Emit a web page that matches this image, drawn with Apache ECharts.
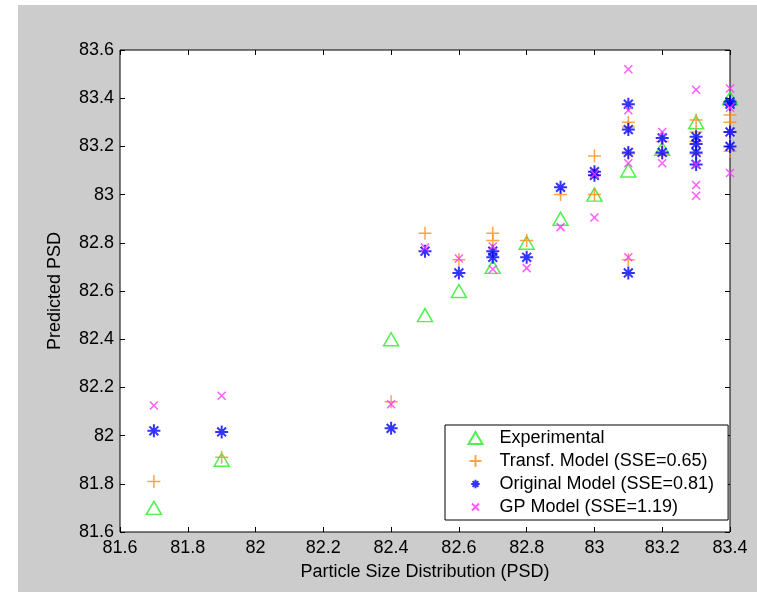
<!DOCTYPE html>
<html>
<head>
<meta charset="utf-8">
<script src="https://cdn.jsdelivr.net/npm/echarts@6/dist/echarts.min.js"></script>
<style>
  html, body { margin: 0; padding: 0; background: #fff; }
  #wrap { position: relative; width: 757px; height: 592px; }
  #bg { position: absolute; left: 18px; top: 5px; width: 739px; height: 587px; background: #cccccc; }
  #chart { position: absolute; left: 0; top: 0; width: 757px; height: 592px; }
</style>
</head>
<body>
<div id="wrap">
  <div id="bg"></div>
  <div id="chart"></div>
</div>
<script>
// axis ticks
const xTicks = [81.6, 81.8, 82, 82.2, 82.4, 82.6, 82.8, 83, 83.2, 83.4];
const yTicks = [81.6, 81.8, 82, 82.2, 82.4, 82.6, 82.8, 83, 83.2, 83.4, 83.6];

// Experimental
const expX = [81.7, 81.9, 82.4, 82.5, 82.6, 82.7, 82.8, 82.9, 83.0, 83.1, 83.2, 83.3, 83.4];
const expY = [81.7, 81.9, 82.4, 82.5, 82.6, 82.7, 82.8, 82.9, 83.0, 83.1, 83.19, 83.3, 83.4];

// Transf. Model
const transfX = [81.7, 81.9, 82.4, 82.5, 82.6, 82.7, 82.7, 82.8, 82.9, 83.0, 83.0,
  83.1, 83.1, 83.1, 83.1, 83.2, 83.2, 83.3, 83.3, 83.3, 83.3, 83.4, 83.4, 83.4, 83.4];
const transfY = [81.81, 81.91, 82.14, 82.84, 82.73, 82.84, 82.81, 82.81, 83.0, 83.16, 83.0,
  83.30, 83.28, 83.17, 82.73, 83.22, 83.17, 83.31, 83.26, 83.22, 83.17, 83.33, 83.30, 83.26, 83.18];

// Original Model
const origX = [81.7, 81.9, 82.4, 82.5, 82.6, 82.7, 82.7, 82.8, 82.9, 83.0, 83.0,
  83.1, 83.1, 83.1, 83.1, 83.2, 83.2, 83.3, 83.3, 83.3, 83.3, 83.4, 83.4, 83.4, 83.4];
const origY = [82.02, 82.015, 82.03, 82.765, 82.675, 82.765, 82.74, 82.74, 83.03, 83.095, 83.08,
  83.375, 83.27, 83.175, 82.675, 83.235, 83.175, 83.24, 83.21, 83.175, 83.125, 83.385, 83.375, 83.26, 83.2];

// GP Model
const gpX = [81.7, 81.9, 82.4, 82.5, 82.6, 82.7, 82.7, 82.8, 82.9, 83.0, 83.0,
  83.1, 83.1, 83.1, 83.1, 83.2, 83.2, 83.3, 83.3, 83.3, 83.3, 83.4, 83.4, 83.4];
const gpY = [82.125, 82.165, 82.13, 82.78, 82.735, 82.785, 82.69, 82.695, 82.865, 83.085, 82.905,
  83.52, 83.35, 83.13, 82.74, 83.26, 83.13, 83.435, 83.125, 83.04, 82.995, 83.44, 83.36, 83.09];

const zip = (xs, ys) => xs.map((x, i) => [x, ys[i]]);

const FONT = "'Liberation Sans', Arial, sans-serif";
const PLUS = 'path://M0,5L10,5M5,0L5,10';
const CROSS = 'path://M0,0L10,10M10,0L0,10';
const STAR = 'path://M0,5L10,5M5,0L5,10M1.6,1.6L8.4,8.4M8.4,1.6L1.6,8.4';
// legend icons: same shapes with empty margins so they draw smaller
const STAR_ICON = 'path://M-2,-2M0,5L10,5M5,0L5,10M1.6,1.6L8.4,8.4M8.4,1.6L1.6,8.4M12,12';
const CROSS_ICON = 'path://M-3.5,-3.5M0,0L10,10M10,0L0,10M13.5,13.5';

const tickAxis = (extra) => Object.assign({
  type: 'value',
  interval: 0.2,
  axisLine: { show: false },
  axisTick: { show: true, inside: true, length: 5, lineStyle: { color: '#000' } },
  splitLine: { show: false },
}, extra);

const chart = echarts.init(document.getElementById('chart'));

chart.setOption({
  animation: false,
  textStyle: { fontFamily: FONT },
  grid: {
    left: 120, right: 27, top: 50, bottom: 60,
    show: true, backgroundColor: '#fff', borderColor: '#000', borderWidth: 1,
  },
  xAxis: [
    tickAxis({
      min: xTicks[0], max: xTicks[xTicks.length - 1], position: 'bottom',
      axisLabel: { color: '#000', fontSize: 18, fontFamily: FONT, margin: 7 },
      name: 'Particle Size Distribution (PSD)',
      nameLocation: 'middle', nameGap: 31,
      nameTextStyle: { color: '#000', fontSize: 18, fontFamily: FONT },
    }),
    tickAxis({
      min: xTicks[0], max: xTicks[xTicks.length - 1], position: 'top',
      axisLabel: { show: false },
    }),
  ],
  yAxis: [
    tickAxis({
      min: yTicks[0], max: yTicks[yTicks.length - 1], position: 'left',
      axisLabel: { color: '#000', fontSize: 18, fontFamily: FONT, margin: 6 },
      name: 'Predicted PSD',
      nameLocation: 'middle', nameGap: 56,
      nameTextStyle: { color: '#000', fontSize: 18, fontFamily: FONT },
    }),
    tickAxis({
      min: yTicks[0], max: yTicks[yTicks.length - 1], position: 'right',
      axisLabel: { show: false },
    }),
  ],
  legend: {
    orient: 'vertical',
    left: 445, top: 425,
    padding: [3, 14, 3, 21],
    itemWidth: 14, itemHeight: 12, itemGap: 3,
    backgroundColor: '#fff', borderColor: '#000', borderWidth: 1, borderRadius: 0,
    textStyle: { color: '#000', fontSize: 18, fontFamily: FONT, lineHeight: 20, padding: [0, 0, 0, 12] },
    data: [
      { name: 'Experimental', icon: 'triangle' },
      { name: 'Transf. Model (SSE=0.65)', icon: PLUS },
      { name: 'Original Model (SSE=0.81)', icon: STAR_ICON },
      { name: 'GP Model (SSE=1.19)', icon: CROSS_ICON },
    ],
  },
  series: [
    {
      name: 'Experimental', type: 'scatter', data: zip(expX, expY),
      symbol: 'triangle', symbolSize: [15, 13],
      itemStyle: { color: 'none', borderColor: '#22ee22', borderWidth: 1.5 },
    },
    {
      name: 'Transf. Model (SSE=0.65)', type: 'scatter', data: zip(transfX, transfY),
      symbol: PLUS, symbolSize: 13,
      itemStyle: { color: 'none', borderColor: '#ff8c1a', borderWidth: 1.5 },
    },
    {
      name: 'Original Model (SSE=0.81)', type: 'scatter', data: zip(origX, origY),
      symbol: STAR, symbolSize: 13,
      itemStyle: { color: 'none', borderColor: '#0000ff', borderWidth: 2 },
    },
    {
      name: 'GP Model (SSE=1.19)', type: 'scatter', data: zip(gpX, gpY),
      symbol: CROSS, symbolSize: 8,
      itemStyle: { color: 'none', borderColor: '#ff33ff', borderWidth: 1.5 },
    },
  ],
});
</script>
</body>
</html>
